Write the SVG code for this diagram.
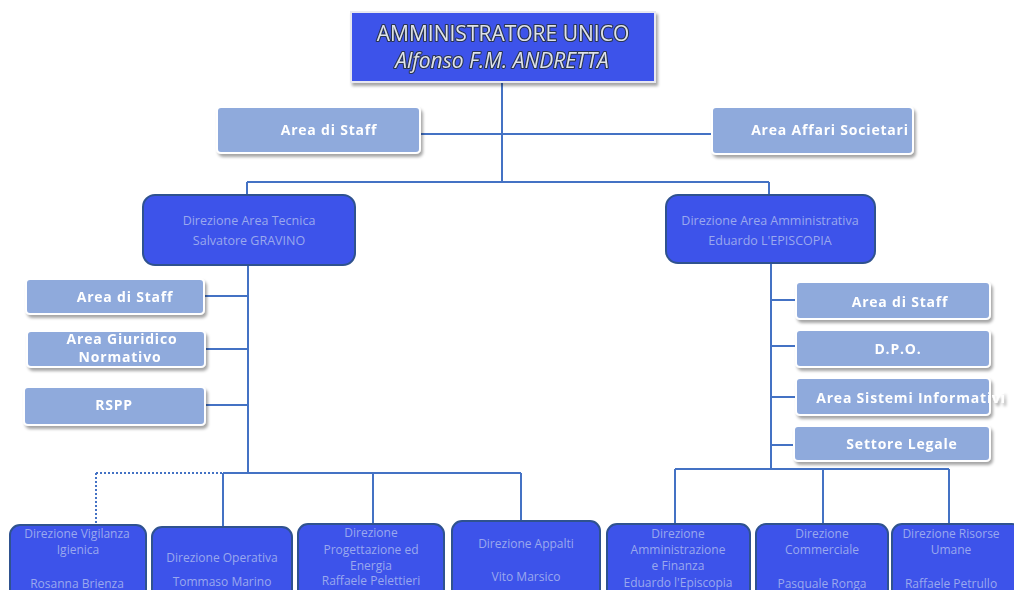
<svg xmlns="http://www.w3.org/2000/svg" width="1014" height="590" viewBox="0 0 1014 590">
<style>
.conn{stroke:#4472c4;stroke-width:2;fill:none}
.dot{stroke:#4472c4;stroke-width:2;fill:none;stroke-dasharray:2 2}
.light{fill:#8faadc;stroke:#ffffff;stroke-width:2}
.lt{font-family:"Open Sans","Liberation Sans",sans-serif;font-weight:bold;font-size:14px;fill:#ffffff;text-anchor:middle;letter-spacing:0.8px}
.dark{fill:#3d53ea;stroke:#2f528f;stroke-width:2}
.dt{font-family:"Open Sans","Liberation Sans",sans-serif;font-size:12px;fill:#9aa8ee;text-anchor:middle}
.dtb{font-size:12.5px}
.top{fill:#3d53ea;stroke:#e8e8f0;stroke-width:2}
.tt{font-family:"Open Sans","Liberation Sans",sans-serif;font-size:21px;fill:#dfe3ea;stroke:#2a3550;stroke-width:2.2;paint-order:stroke;stroke-linejoin:round;text-anchor:middle}
</style>
<defs>
<filter id="sh" x="-10%" y="-20%" width="130%" height="160%">
<feDropShadow dx="2" dy="3" stdDeviation="1.5" flood-color="#000" flood-opacity="0.35"/>
</filter>
</defs>
<rect width="1014" height="590" fill="#ffffff"/>
<g id="connectors">
<path class="conn" d="M502 82V182M420 134H712M247 182H769M247 182V196M769 182V196"/>
<path class="conn" d="M248 265V472M204 296H248M205 349H248M205 405H248"/>
<path class="conn" d="M223 473H521M223 473V527M373 473V525M521 473V523"/>
<path class="dot" d="M96 473H223M96 473V523"/>
<path class="conn" d="M771 263V469M772 300H796M772 346H796M772 397H796M772 445H794"/>
<path class="conn" d="M675 469H949M675 469V524M823 469V524M949 469V524"/>
</g>
<g id="n-amministratore" filter="url(#sh)">
<rect class="top" x="351" y="12" width="304" height="70"/>
<text class="tt" x="503" y="41">AMMINISTRATORE UNICO</text>
<text class="tt" x="502" y="68" font-style="italic" font-size="17.5">Alfonso F.M. ANDRETTA</text>
</g>
<g id="n-staff-top" filter="url(#sh)">
<rect class="light" x="217" y="107" width="203" height="46" rx="4"/>
<text class="lt" x="329" y="135">Area di Staff</text>
</g>
<g id="n-affari" filter="url(#sh)">
<rect class="light" x="712" y="107" width="201" height="47" rx="4"/>
<text class="lt" x="830" y="135">Area Affari Societari</text>
</g>
<g id="n-dir-tecnica">
<rect class="dark" x="143" y="195" width="212" height="70" rx="12"/>
<text class="dt dtb" x="249" y="225">Direzione  Area Tecnica</text>
<text class="dt dtb" x="249" y="245">Salvatore GRAVINO</text>
</g>
<g id="n-dir-amm">
<rect class="dark" x="666" y="195" width="209" height="68" rx="12"/>
<text class="dt dtb" x="770" y="225">Direzione  Area Amministrativa</text>
<text class="dt dtb" x="770" y="245">Eduardo L'EPISCOPIA</text>
</g>
<g id="n-staff-l" filter="url(#sh)">
<rect class="light" x="26" y="279" width="178" height="35" rx="4"/>
<text class="lt" x="125" y="302">Area di Staff</text>
</g>
<g id="n-giuridico" filter="url(#sh)">
<rect class="light" x="27" y="331" width="178" height="36" rx="4"/>
<text class="lt" x="122" y="344">Area Giuridico</text>
<text class="lt" x="120" y="362">Normativo</text>
</g>
<g id="n-rspp" filter="url(#sh)">
<rect class="light" x="24" y="387" width="181" height="38" rx="4"/>
<text class="lt" x="114" y="410">RSPP</text>
</g>
<g id="n-staff-r" filter="url(#sh)">
<rect class="light" x="796" y="282" width="194" height="37" rx="4"/>
<text class="lt" x="900" y="307">Area di Staff</text>
</g>
<g id="n-dpo" filter="url(#sh)">
<rect class="light" x="796" y="330" width="194" height="37" rx="4"/>
<text class="lt" x="898" y="354">D.P.O.</text>
</g>
<g id="n-sistemi" filter="url(#sh)">
<rect class="light" x="796" y="378" width="194" height="37" rx="4"/>
<text class="lt" x="911" y="403">Area Sistemi Informativi</text>
</g>
<g id="n-legale" filter="url(#sh)">
<rect class="light" x="794" y="426" width="196" height="35" rx="4"/>
<text class="lt" x="902" y="449" font-size="15">Settore Legale</text>
</g>
<g id="n-vigilanza">
<rect class="dark" x="10" y="525" width="136" height="75" rx="10"/>
<text class="dt" x="77" y="538">Direzione Vigilanza</text>
<text class="dt" x="78" y="554">Igienica</text>
<text class="dt" x="77" y="588">Rosanna Brienza</text>
</g>
<g id="n-operativa">
<rect class="dark" x="152" y="527" width="140" height="73" rx="10"/>
<text class="dt" x="222" y="562">Direzione  Operativa</text>
<text class="dt" x="222" y="586">Tommaso Marino</text>
</g>
<g id="n-progettazione">
<rect class="dark" x="298" y="524" width="146" height="76" rx="10"/>
<text class="dt" x="371" y="537">Direzione</text>
<text class="dt" x="371" y="554">Progettazione ed</text>
<text class="dt" x="371" y="570">Energia</text>
<text class="dt" x="371" y="585">Raffaele Pelettieri</text>
</g>
<g id="n-appalti">
<rect class="dark" x="452" y="521" width="148" height="79" rx="10"/>
<text class="dt" x="526" y="548">Direzione Appalti</text>
<text class="dt" x="526" y="581">Vito Marsico</text>
</g>
<g id="n-amm-fin">
<rect class="dark" x="607" y="524" width="143" height="76" rx="10"/>
<text class="dt" x="678" y="538">Direzione</text>
<text class="dt" x="678" y="554">Amministrazione</text>
<text class="dt" x="678" y="570">e Finanza</text>
<text class="dt" x="678" y="587">Eduardo l'Episcopia</text>
</g>
<g id="n-commerciale">
<rect class="dark" x="756" y="524" width="132" height="76" rx="10"/>
<text class="dt" x="822" y="538">Direzione</text>
<text class="dt" x="822" y="554">Commerciale</text>
<text class="dt" x="822" y="588">Pasquale Ronga</text>
</g>
<g id="n-risorse">
<rect class="dark" x="892" y="524" width="130" height="76" rx="10"/>
<text class="dt" x="951" y="538">Direzione Risorse</text>
<text class="dt" x="951" y="554">Umane</text>
<text class="dt" x="951" y="588">Raffaele Petrullo</text>
</g>
</svg>
